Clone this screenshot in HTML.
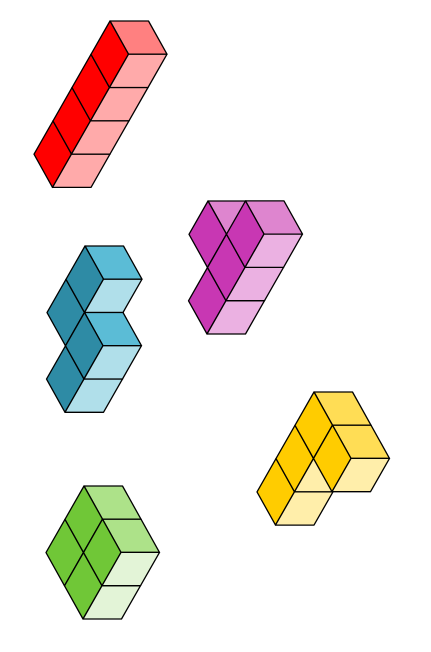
<!DOCTYPE html>
<html><head><meta charset="utf-8">
<style>
html,body{margin:0;padding:0;background:#fff;width:431px;height:652px;overflow:hidden}
svg{display:block}
</style></head>
<body>
<svg id="scene" width="431" height="652" viewBox="0 0 431 652" xmlns="http://www.w3.org/2000/svg"></svg>
<script>
// piece names
const pieceNames = ['red-i-piece','cyan-s-piece','purple-t-piece','yellow-l-piece','green-o-piece'];
// cube grid coordinates [i, j, k] per piece (k grows downward)
const redCubes = [[0,0,0],[0,0,1],[0,0,2],[0,0,3]];
const cyanCubes = [[0,0,0],[0,0,1],[0,1,1],[0,1,2]];
const purpleCubes = [[0,0,0],[0,1,-1],[0,1,0],[0,1,1]];
const yellowCubes = [[0,0,0],[0,0,1],[0,0,2],[0,1,0]];
const greenCubes = [[0,0,0],[0,1,0],[0,0,1],[0,1,1]];
const pieceCubes = [redCubes, cyanCubes, purpleCubes, yellowCubes, greenCubes];
// colours [left, top, front]
const pieceColors = [
  ['#ff0000','#ff8080','#ffaaaa'],
  ['#2e8ba5','#5bbcd6','#b0dfea'],
  ['#c837b3','#de85cf','#ebb1e2'],
  ['#ffcc00','#ffdd55','#ffeeaa'],
  ['#70c737','#ade289','#e3f4d7']
];

// projection
const origins = [[110,21],[85,246],[208,201],[314,392],[84,486]];
const AX = [38.5,0], BX = [18.5,33.2], CX = [-19,33.3];
function P(o,i,j,k){return [o[0]+i*AX[0]+j*BX[0]+k*CX[0], o[1]+i*AX[1]+j*BX[1]+k*CX[1]];}
const svg = document.getElementById('scene');
const NS = 'http://www.w3.org/2000/svg';
function poly(g, pts, fill, name){
  const p = document.createElementNS(NS,'polygon');
  p.setAttribute('points', pts.map(q=>q[0].toFixed(1)+','+q[1].toFixed(1)).join(' '));
  p.setAttribute('fill', fill);
  p.setAttribute('stroke', '#000');
  p.setAttribute('stroke-width', '1.3');
  p.setAttribute('stroke-linejoin', 'round');
  
  
  g.appendChild(p);
}
pieceCubes.forEach((cubes, pi) => {
  const g = document.createElementNS(NS,'g');
  
  
  svg.appendChild(g);
  const o = origins[pi], col = pieceColors[pi];
  const sorted = cubes.slice().sort((u,v)=>(-u[0]+u[1]-u[2])-(-v[0]+v[1]-v[2]));
  sorted.forEach(([i,j,k]) => {
    poly(g, [P(o,i,j,k),P(o,i+1,j,k),P(o,i+1,j+1,k),P(o,i,j+1,k)], col[1], 'cube-top-face');
    poly(g, [P(o,i,j,k),P(o,i,j+1,k),P(o,i,j+1,k+1),P(o,i,j,k+1)], col[0], 'cube-left-face');
    poly(g, [P(o,i,j+1,k),P(o,i+1,j+1,k),P(o,i+1,j+1,k+1),P(o,i,j+1,k+1)], col[2], 'cube-front-face');
  });
});
</script>
</body></html>
